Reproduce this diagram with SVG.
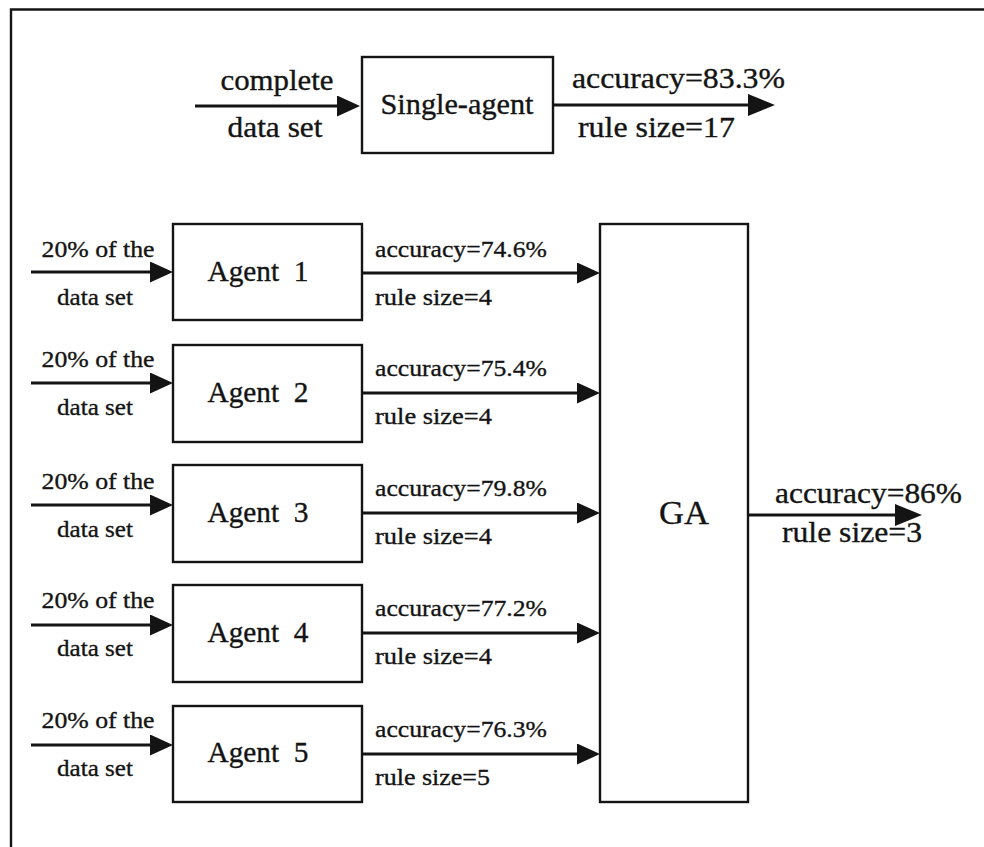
<svg xmlns="http://www.w3.org/2000/svg" width="984" height="847" viewBox="0 0 984 847">
  <style>
    text { font-family: "Liberation Serif", "Times New Roman", serif; fill: #141414; stroke: #141414; stroke-width: 0.35; }
    .box { fill: #ffffff; stroke: #141414; stroke-width: 2.4; }
    .frame { fill: none; stroke: #141414; stroke-width: 2.4; }
    .wire { fill: none; stroke: #141414; stroke-width: 3; }
    .lg { font-size: 29px; }
    .md { font-size: 29px; }
    .sm { font-size: 24px; }
    .mid { text-anchor: middle; }
  </style>
  <defs>
    <marker id="headS" markerUnits="userSpaceOnUse" markerWidth="25" markerHeight="22" refX="2" refY="10.5" orient="auto">
      <path d="M0,0 L23,10.5 L0,21 z" fill="#141414"/>
    </marker>
    <marker id="headL" markerUnits="userSpaceOnUse" markerWidth="28" markerHeight="23" refX="2" refY="11" orient="auto">
      <path d="M0,0 L27,11 L0,22 z" fill="#141414"/>
    </marker>
  </defs>

  <rect width="984" height="847" fill="#ffffff"/>
  <!-- outer frame: left and top edges -->
  <path class="frame" d="M11,847 V9.5 H984"/>

  <!-- connectors -->
  <g id="connectors">
    <path class="wire" d="M195,106 H339" marker-end="url(#headS)"/>
    <path class="wire" d="M553,105 H750" marker-end="url(#headL)"/>

    <path class="wire" d="M31,272 H152" marker-end="url(#headS)"/>
    <path class="wire" d="M31,383 H152" marker-end="url(#headS)"/>
    <path class="wire" d="M31,505 H152" marker-end="url(#headS)"/>
    <path class="wire" d="M31,625 H152" marker-end="url(#headS)"/>
    <path class="wire" d="M31,745 H152" marker-end="url(#headS)"/>

    <path class="wire" d="M362,273 H579" marker-end="url(#headS)"/>
    <path class="wire" d="M362,393 H579" marker-end="url(#headS)"/>
    <path class="wire" d="M362,513 H579" marker-end="url(#headS)"/>
    <path class="wire" d="M362,633 H579" marker-end="url(#headS)"/>
    <path class="wire" d="M362,754 H579" marker-end="url(#headS)"/>

    <path class="wire" d="M748,515 H897" marker-end="url(#headL)"/>
  </g>

  <!-- single learner over the whole data -->
  <g id="single-agent">
    <text class="lg mid" x="277" y="90" textLength="113" lengthAdjust="spacingAndGlyphs">complete</text>
    <text class="lg mid" x="275" y="137" textLength="95" lengthAdjust="spacingAndGlyphs">data set</text>
    <rect class="box" x="362" y="57" width="191" height="96"/>
    <text class="md mid" x="457" y="114" textLength="153" lengthAdjust="spacingAndGlyphs">Single-agent</text>
    <text class="lg" x="572" y="88" textLength="213" lengthAdjust="spacingAndGlyphs">accuracy=83.3%</text>
    <text class="lg" x="578" y="137" textLength="157" lengthAdjust="spacingAndGlyphs">rule size=17</text>
  </g>

  <g id="agent1">
    <text class="sm mid" x="98" y="257" textLength="113" lengthAdjust="spacingAndGlyphs">20% of the</text>
    <text class="sm mid" x="95" y="305" textLength="76" lengthAdjust="spacingAndGlyphs">data set</text>
    <rect class="box" x="173" y="224" width="189" height="96"/>
    <text class="md mid" x="258" y="281" xml:space="preserve" textLength="101" lengthAdjust="spacingAndGlyphs">Agent  1</text>
    <text class="sm" x="375" y="257" textLength="172" lengthAdjust="spacingAndGlyphs">accuracy=74.6%</text>
    <text class="sm" x="375" y="305" textLength="117" lengthAdjust="spacingAndGlyphs">rule size=4</text>
  </g>

  <g id="agent2">
    <text class="sm mid" x="98" y="367" textLength="113" lengthAdjust="spacingAndGlyphs">20% of the</text>
    <text class="sm mid" x="95" y="415" textLength="76" lengthAdjust="spacingAndGlyphs">data set</text>
    <rect class="box" x="173" y="345" width="189" height="97"/>
    <text class="md mid" x="258" y="402" xml:space="preserve" textLength="101" lengthAdjust="spacingAndGlyphs">Agent  2</text>
    <text class="sm" x="375" y="376" textLength="172" lengthAdjust="spacingAndGlyphs">accuracy=75.4%</text>
    <text class="sm" x="375" y="424" textLength="117" lengthAdjust="spacingAndGlyphs">rule size=4</text>
  </g>

  <g id="agent3">
    <text class="sm mid" x="98" y="489" textLength="113" lengthAdjust="spacingAndGlyphs">20% of the</text>
    <text class="sm mid" x="95" y="537" textLength="76" lengthAdjust="spacingAndGlyphs">data set</text>
    <rect class="box" x="173" y="465" width="189" height="97"/>
    <text class="md mid" x="258" y="522" xml:space="preserve" textLength="101" lengthAdjust="spacingAndGlyphs">Agent  3</text>
    <text class="sm" x="375" y="496" textLength="172" lengthAdjust="spacingAndGlyphs">accuracy=79.8%</text>
    <text class="sm" x="375" y="544" textLength="117" lengthAdjust="spacingAndGlyphs">rule size=4</text>
  </g>

  <g id="agent4">
    <text class="sm mid" x="98" y="608" textLength="113" lengthAdjust="spacingAndGlyphs">20% of the</text>
    <text class="sm mid" x="95" y="656" textLength="76" lengthAdjust="spacingAndGlyphs">data set</text>
    <rect class="box" x="173" y="585" width="189" height="97"/>
    <text class="md mid" x="258" y="642" xml:space="preserve" textLength="101" lengthAdjust="spacingAndGlyphs">Agent  4</text>
    <text class="sm" x="375" y="616" textLength="172" lengthAdjust="spacingAndGlyphs">accuracy=77.2%</text>
    <text class="sm" x="375" y="664" textLength="117" lengthAdjust="spacingAndGlyphs">rule size=4</text>
  </g>

  <g id="agent5">
    <text class="sm mid" x="98" y="728" textLength="113" lengthAdjust="spacingAndGlyphs">20% of the</text>
    <text class="sm mid" x="95" y="776" textLength="76" lengthAdjust="spacingAndGlyphs">data set</text>
    <rect class="box" x="173" y="706" width="189" height="96"/>
    <text class="md mid" x="258" y="762" xml:space="preserve" textLength="101" lengthAdjust="spacingAndGlyphs">Agent  5</text>
    <text class="sm" x="375" y="737" textLength="172" lengthAdjust="spacingAndGlyphs">accuracy=76.3%</text>
    <text class="sm" x="375" y="785" textLength="115" lengthAdjust="spacingAndGlyphs">rule size=5</text>
  </g>

  <!-- combiner -->
  <g id="ga">
    <rect class="box" x="600" y="224" width="148" height="578"/>
    <text class="mid" x="684" y="524" style="font-size:33px" textLength="50" lengthAdjust="spacingAndGlyphs">GA</text>
    <text class="lg" x="775" y="503" textLength="187" lengthAdjust="spacingAndGlyphs">accuracy=86%</text>
    <text class="lg" x="782" y="542" textLength="140" lengthAdjust="spacingAndGlyphs">rule size=3</text>
  </g>
</svg>
